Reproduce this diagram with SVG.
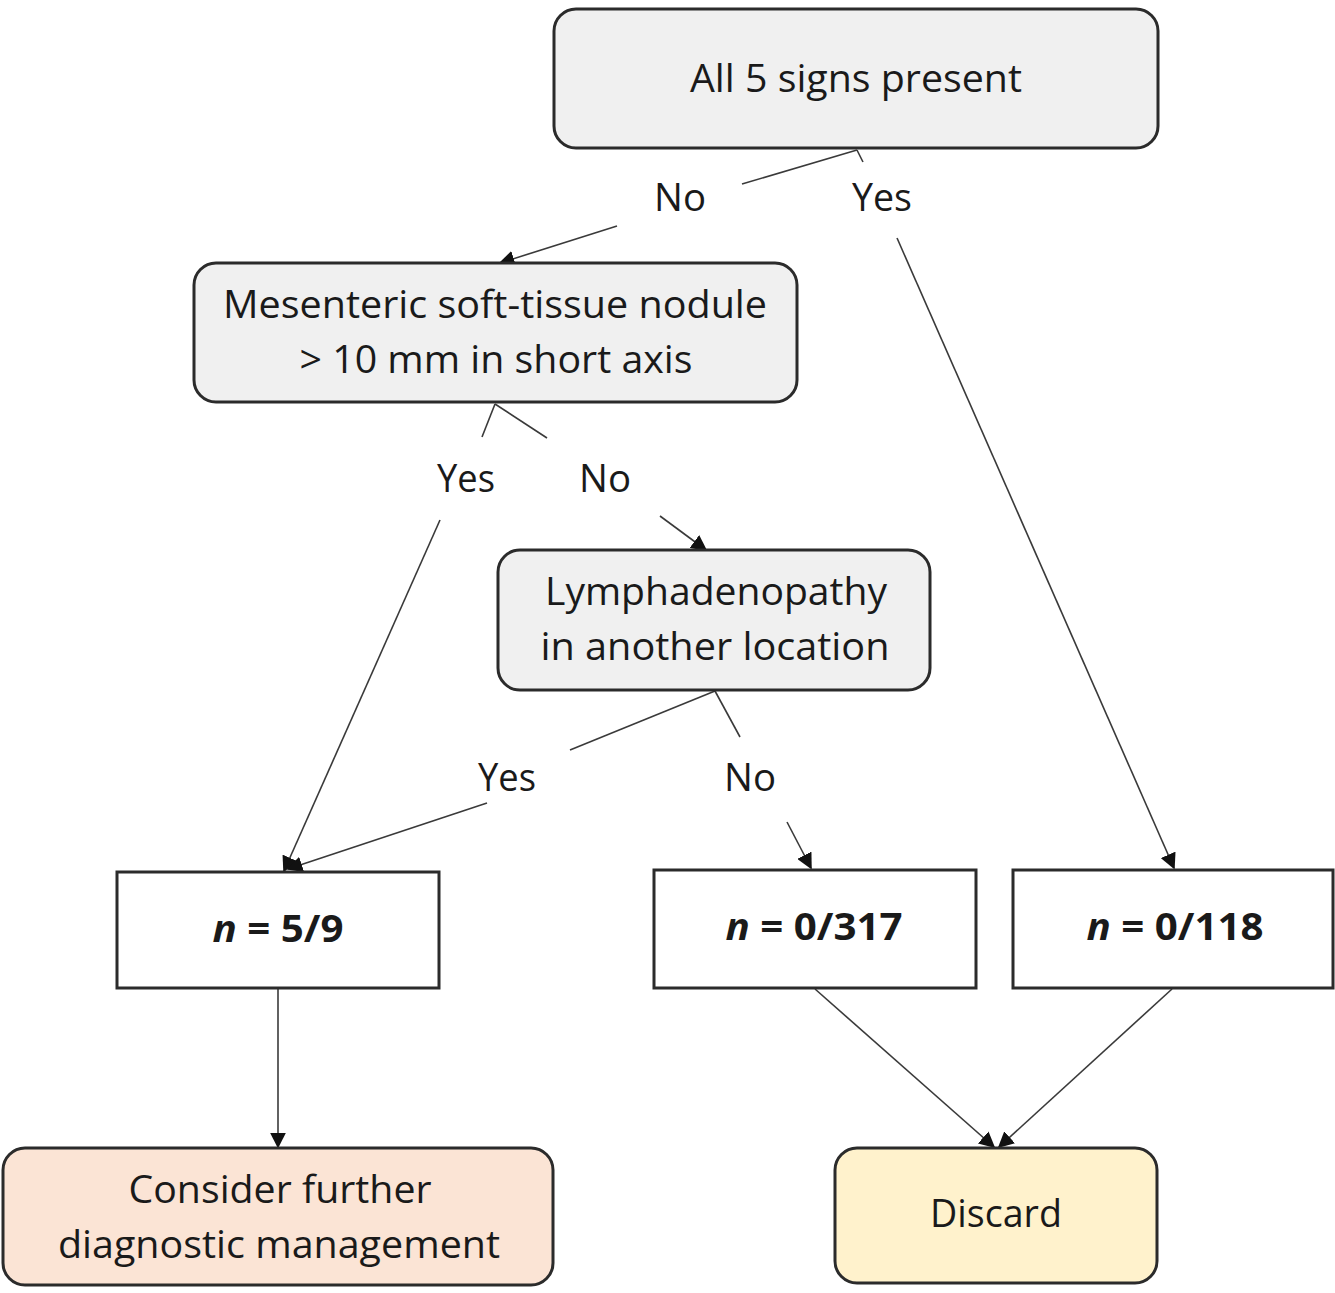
<svg xmlns="http://www.w3.org/2000/svg" width="1335" height="1293" viewBox="0 0 1335 1293">
<style>
.box{stroke:#2b2b2b;stroke-width:3}
.grey{fill:#f0f0f0}
.white{fill:#ffffff}
.peach{fill:#fbe4d5}
.yellow{fill:#fff2cc}
.t{font-family:"Open Sans","Liberation Sans",sans-serif;font-size:38px;fill:#1a1a1a;text-anchor:middle}
.b{font-weight:bold}
.c{stroke:#3a3a3a;stroke-width:1.6;fill:none}
</style>
<defs>
<marker id="ah" viewBox="0 0 10 10" refX="9" refY="5" markerWidth="9" markerHeight="9" markerUnits="userSpaceOnUse" orient="auto">
<path d="M0,0 L10,5 L0,10 z" fill="#111"/>
</marker>
<marker id="ah2" viewBox="0 0 10 10" refX="9" refY="5" markerWidth="16" markerHeight="16" markerUnits="userSpaceOnUse" orient="auto">
<path d="M0,0 L10,5 L0,10 z" fill="#111"/>
</marker>
</defs>
<rect width="1335" height="1293" fill="#ffffff"/>
<g id="connectors">
<line class="c" x1="857" y1="150" x2="742" y2="184"/>
<line class="c" x1="617" y1="226" x2="500" y2="263" marker-end="url(#ah2)"/>
<line class="c" x1="857" y1="150" x2="863" y2="162"/>
<line class="c" x1="897" y1="238" x2="1174" y2="868" marker-end="url(#ah2)"/>
<line class="c" x1="495" y1="404" x2="482" y2="437"/>
<line class="c" x1="440" y1="520" x2="284" y2="871" marker-end="url(#ah2)"/>
<line class="c" x1="495" y1="404" x2="547" y2="438"/>
<line class="c" x1="660" y1="516" x2="706" y2="550" marker-end="url(#ah2)"/>
<line class="c" x1="715" y1="691" x2="570" y2="750"/>
<line class="c" x1="487" y1="803" x2="288" y2="869" marker-end="url(#ah2)"/>
<line class="c" x1="715" y1="691" x2="740" y2="737"/>
<line class="c" x1="787" y1="822" x2="811" y2="868" marker-end="url(#ah2)"/>
<line class="c" x1="278" y1="989" x2="278" y2="1147" marker-end="url(#ah2)"/>
<line class="c" x1="815" y1="989" x2="994" y2="1147" marker-end="url(#ah2)"/>
<line class="c" x1="1172" y1="989" x2="999" y2="1147" marker-end="url(#ah2)"/>
<text class="t" x="680" y="211" textLength="52" lengthAdjust="spacingAndGlyphs">No</text>
<text class="t" x="882" y="211" textLength="60" lengthAdjust="spacingAndGlyphs">Yes</text>
<text class="t" x="466" y="492" textLength="58" lengthAdjust="spacingAndGlyphs">Yes</text>
<text class="t" x="605" y="492" textLength="52" lengthAdjust="spacingAndGlyphs">No</text>
<text class="t" x="507" y="791" textLength="58" lengthAdjust="spacingAndGlyphs">Yes</text>
<text class="t" x="750" y="791" textLength="52" lengthAdjust="spacingAndGlyphs">No</text>
</g>
<g id="node-all5">
<rect class="box grey" x="554" y="9" width="604" height="139" rx="22"/>
<text class="t" x="856" y="92" textLength="332" lengthAdjust="spacingAndGlyphs">All 5 signs present</text>
</g>
<g id="node-mesenteric">
<rect class="box grey" x="194" y="263" width="603" height="139" rx="22"/>
<text class="t" x="495" y="318" textLength="544" lengthAdjust="spacingAndGlyphs">Mesenteric soft-tissue nodule</text>
<text class="t" x="496" y="373" textLength="393" lengthAdjust="spacingAndGlyphs">&gt; 10 mm in short axis</text>
</g>
<g id="node-lymph">
<rect class="box grey" x="498" y="550" width="432" height="140" rx="22"/>
<text class="t" x="716" y="605" textLength="342" lengthAdjust="spacingAndGlyphs">Lymphadenopathy</text>
<text class="t" x="715" y="660" textLength="349" lengthAdjust="spacingAndGlyphs">in another location</text>
</g>
<g id="node-n59">
<rect class="box white" x="117" y="872" width="322" height="116"/>
<text class="t b" x="278" y="942" textLength="131" lengthAdjust="spacingAndGlyphs"><tspan font-style="italic">n</tspan> = 5/9</text>
</g>
<g id="node-n0317">
<rect class="box white" x="654" y="870" width="322" height="118"/>
<text class="t b" x="814" y="940" textLength="177" lengthAdjust="spacingAndGlyphs"><tspan font-style="italic">n</tspan> = 0/317</text>
</g>
<g id="node-n0118">
<rect class="box white" x="1013" y="870" width="320" height="118"/>
<text class="t b" x="1175" y="940" textLength="177" lengthAdjust="spacingAndGlyphs"><tspan font-style="italic">n</tspan> = 0/118</text>
</g>
<g id="node-consider">
<rect class="box peach" x="3" y="1148" width="550" height="137" rx="22"/>
<text class="t" x="280" y="1203" textLength="303" lengthAdjust="spacingAndGlyphs">Consider further</text>
<text class="t" x="279" y="1258" textLength="442" lengthAdjust="spacingAndGlyphs">diagnostic management</text>
</g>
<g id="node-discard">
<rect class="box yellow" x="835" y="1148" width="322" height="135" rx="22"/>
<text class="t" x="996" y="1227" textLength="132" lengthAdjust="spacingAndGlyphs">Discard</text>
</g>
</svg>
